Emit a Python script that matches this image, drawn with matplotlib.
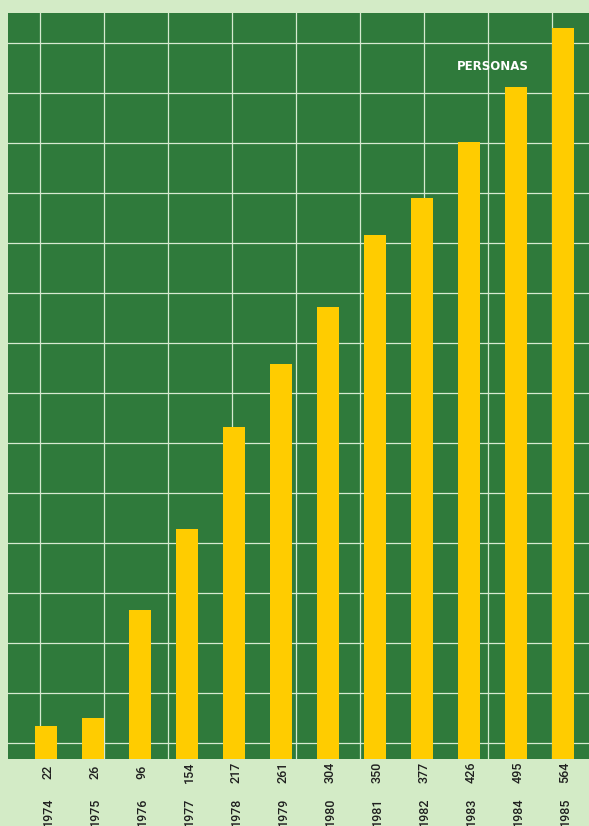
import numpy as np
import matplotlib.pyplot as plt

# data
years = ["1974", "1975", "1976", "1977", "1978", "1979",
         "1980", "1981", "1982", "1983", "1984", "1985"]
personas = [22, 26, 96, 154, 217, 261, 304, 350, 377, 426, 495, 564]
# bar heights as drawn in the original (top bars are squeezed to fit)
bar_heights = [22, 27, 99, 153, 221, 263, 301, 349, 374, 411, 448, 487]

GREEN = "#2f7a3b"
YELLOW = "#ffcc00"
PALE = "#d3ebc6"
GRIDC = "#d6ead0"

W, H = 589, 826
fig = plt.figure(figsize=(W / 100, H / 100), dpi=100, facecolor=PALE)

# plot area in pixels: x 8..589, y 13..759
rect = [8 / W, (H - 759) / H, 581 / W, 746 / H]

# background grid panel (decorative, pixel units)
bg = fig.add_axes(rect, facecolor=GREEN)
bg.set_xlim(0, 581)
bg.set_ylim(0, 746)
bg.set_xticks(np.arange(32, 581, 64))
bg.set_yticks(np.arange(16, 746, 50))
bg.grid(True, color=GRIDC, linewidth=0.9)
bg.tick_params(length=0, labelbottom=False, labelleft=False)
for s in bg.spines.values():
    s.set_visible(False)

ax = fig.add_axes(rect, facecolor="none")
x = np.arange(len(years))
ax.bar(x, bar_heights, width=0.47, color=YELLOW, zorder=3)
ax.set_xlim(-0.8, 11.56)
ax.set_ylim(0, 497.3)
ax.set_xticks([])
ax.set_yticks([])
for s in ax.spines.values():
    s.set_visible(False)

lab_font = dict(family=["Roboto", "DejaVu Sans"], fontsize=9, fontweight="medium",
                color="#1f1f1f", rotation=90, ha="center", va="center")
tr = ax.get_xaxis_transform()
for xi, v, yr in zip(x, personas, years):
    ax.text(xi + 0.05, -0.0174, str(v), transform=tr, clip_on=False, **lab_font)
    ax.text(xi + 0.05, -0.0705, yr, transform=tr, clip_on=False, **lab_font)

ax.text(0.835, 0.928, "PERSONAS", transform=ax.transAxes, color="white",
        fontsize=8.5, fontweight="bold", ha="center", va="center", zorder=4)

fig.savefig("out.png", dpi=100, facecolor=PALE)
